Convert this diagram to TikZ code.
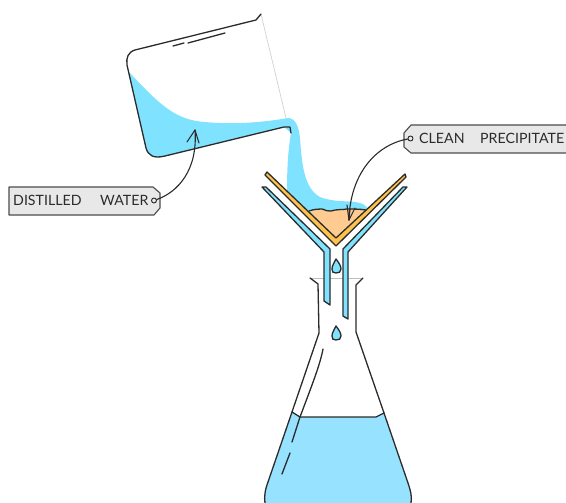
\documentclass[tikz,border=0pt]{standalone}
\usepackage{fontspec}
\setmainfont{Lato}
\definecolor{ink}{HTML}{2B2B2B}
\definecolor{wat}{HTML}{7FE3FF}
\definecolor{flaskwat}{HTML}{96E2FF}
\definecolor{paper}{HTML}{FFC34D}
\definecolor{ppt}{HTML}{FFCB91}
\definecolor{tagfill}{HTML}{E8E8E8}
\tikzset{
 outl/.style={draw=ink,line width=1.3pt,line join=round,line cap=round},
 faint/.style={draw=black!25,line width=.7pt},
 tag/.style={fill=tagfill,draw=black!70,line width=1.1pt,line join=round},
 lab/.style={font=\fontsize{14.2}{16}\selectfont,text=ink,inner sep=0pt,anchor=base west},
 dotm/.style={circle,draw=ink,fill=tagfill,line width=.9pt,minimum size=5pt,inner sep=0pt},
 ptr/.style={draw=ink,line width=1.1pt,line cap=round,line join=round},
}
\begin{document}
\begin{tikzpicture}[x=1pt,y=-1pt]
\useasboundingbox (0,0) rectangle (566,503);
\clip (0,0) rectangle (566,503);
% flask water
\fill[flaskwat] (292,412) -- (300,417) -- (376,417) -- (384,413) -- (408,483)
  .. controls (411,492) and (412,497) .. (411,503) -- (265,503)
  .. controls (264,497) and (265,490) .. (268,482) -- cycle;
% flask
\draw[faint] (310,278) -- (363,278);
\draw[outl] (310,278) -- (318,284) -- (319,333) -- (292,412) -- (268,482)
  .. controls (265,490) and (264,497) .. (265,503);
\draw[outl] (363,278) -- (356,285) -- (356,332) -- (384,413) -- (408,483)
  .. controls (411,492) and (412,497) .. (411,503);
\draw[outl] (292,412) -- (300,417) -- (376,417) -- (384,413);
\draw[outl] (323,349) .. controls (320,365) and (312,385) .. (300,417) -- (292,442);
\draw[outl] (290,453) -- (282,474);
% stream and beaker water
\fill[wat] (128,71) .. controls (160,105) and (175,120) .. (205,122)
  .. controls (235,125) and (265,122) .. (288,118)
  .. controls (296,118) and (299,128) .. (300,138)
  .. controls (302,165) and (304,188) .. (320,197)
  .. controls (335,203) and (350,200) .. (360,203)
  .. controls (365,204) and (368,208) .. (369,212)
  -- (336,240) -- (287,190) .. controls (287,170) and (288,150) .. (291,133)
  -- (284,127) -- (165,156) .. controls (152,159) and (148,155) .. (146,148) -- cycle;
% beaker
\draw[faint,draw=black!18] (261,14) -- (286,118);
\draw[outl] (261,14) -- (256,20) -- (135,50) .. controls (128,52) and (126,58) .. (127,65)
  -- (146,148) .. controls (148,155) and (153,159) .. (165,156) -- (284,127) -- (290,127) -- (291,133);
\draw[outl] (173,46) -- (184,43);
\draw[outl] (188,43) -- (225,33);
% precipitate
\fill[ppt] (309,211) .. controls (315,209) and (318,209) .. (322,209)
  .. controls (326,210) and (328,212) .. (331,211)
  .. controls (337,209) and (342,210) .. (347,209)
  .. controls (353,209) and (360,209) .. (366,210) -- (336,238) -- cycle;
\draw[outl] (309,211) .. controls (315,209) and (318,209) .. (322,209)
  .. controls (326,210) and (328,212) .. (331,211)
  .. controls (337,209) and (342,210) .. (347,209)
  .. controls (353,209) and (360,209) .. (366,210);
% filter paper
\filldraw[outl,fill=paper] (265,175) -- (267,172) -- (336,238) -- (405,174) -- (406,177) -- (336,246) -- cycle;
% funnel
\filldraw[outl,fill=wat] (262,187) -- (266,187) -- (330,249) -- (330,305) -- (324,301) -- (324,252) -- cycle;
\filldraw[outl,fill=wat] (407,187) -- (403,187) -- (343,249) -- (343,316) -- (348,319) -- (348,252) -- cycle;
% droplets
\filldraw[outl,fill=wat] (336,259) .. controls (339,263) and (341,266) .. (341,269)
  .. controls (341,272) and (339,273) .. (336,273) .. controls (333,273) and (332,272) .. (332,269)
  .. controls (332,266) and (334,263) .. (336,259) -- cycle;
\filldraw[outl,fill=wat] (336,326) .. controls (339,330) and (341,333) .. (341,336)
  .. controls (341,339) and (339,340) .. (336,340) .. controls (333,340) and (332,339) .. (332,336)
  .. controls (332,333) and (334,330) .. (336,326) -- cycle;
% tags
\draw[tag] (9,187) -- (153,187) -- (160,193) -- (160,208) -- (154,215) -- (9,215) -- cycle;
\draw[tag] (411,125) -- (570,125) -- (570,153) -- (411,153) -- (404,147) -- (404,133) -- cycle;
\node[lab] (distA) at (13,206) {DISTILLED};
\node[lab] (distB) at (100,206) {WATER};
\node[lab] (cleanA) at (419,144) {CLEAN};
\node[lab] (cleanB) at (480,144) {PRECIPITATE};
\node[dotm] (dotD) at (154,200.5) {};
\node[dotm] (dotC) at (410.5,138.5) {};
\coordinate (tipD) at (195,130);
\coordinate (tipC) at (349,220);
\coordinate (bD1) at (187,142);
\coordinate (bD2) at (199,143);
\coordinate (bC1) at (347,205);
\coordinate (bC2) at (355,208);
\coordinate (bC3) at (350,209);
\draw[ptr] (dotD) .. controls (178,192) and (198,170) .. (tipD);
\draw[ptr] (bD1) -- (tipD) -- (bD2);
\draw[ptr] (dotC) .. controls (375,145) and (350,175) .. (tipC);
\draw[ptr] (bC1) -- (tipC) -- (bC2);
\draw[ptr] (bC3) -- (tipC);
\end{tikzpicture}
\end{document}
